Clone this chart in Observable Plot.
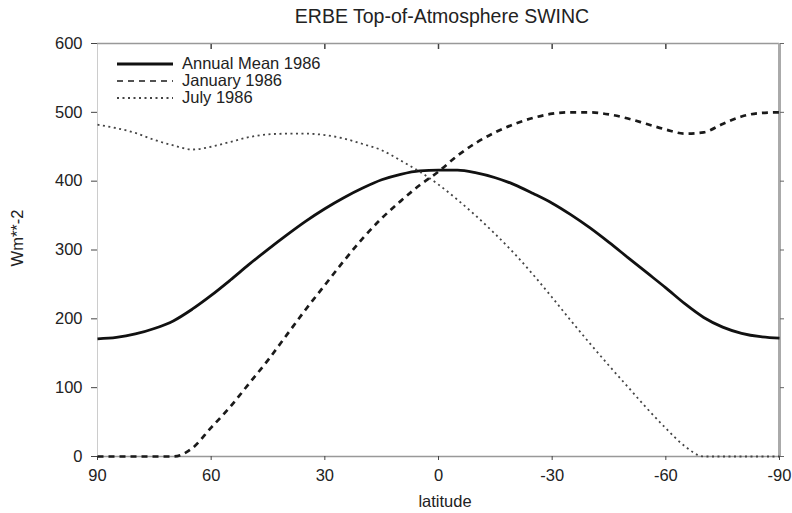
<!DOCTYPE html>
<html>
<head>
<meta charset="utf-8">
<script src="https://cdn.jsdelivr.net/npm/d3@7"></script>
<script src="https://cdn.jsdelivr.net/npm/@observablehq/plot@0.6"></script>
<style>
  body { margin: 0; background: #fff; }
  #wrap { position: relative; width: 792px; height: 513px; font-family: "Liberation Sans", Arial, Helvetica, sans-serif; color: #222; }
  #chart { position: absolute; left: 0; top: 0; }
  .abs { position: absolute; line-height: 1; white-space: nowrap; }
  .title { left: 0; width: 884px; top: 7px; text-align: center; font-size: 19.5px; }
  .xlabel { left: 345px; width: 200px; top: 493px; text-align: center; font-size: 16.5px; }
  .ylabel { left: -23px; width: 80px; top: 230px; text-align: center; font-size: 16.5px; transform: rotate(-90deg); transform-origin: 40px 8px; }
  .leg { left: 117px; display: flex; align-items: center; font-size: 16.5px; height: 17px; }
  .leg svg { margin-right: 9px; }
</style>
</head>
<body>
<div id="wrap">
  <div id="chart"></div>
  <div class="abs title">ERBE Top-of-Atmosphere SWINC</div>
  <div class="abs xlabel">latitude</div>
  <div class="abs ylabel">Wm**-2</div>
  <div id="legend"></div>
</div>
<script>
// ---- data ----
const latitudes = [90,85,80,75,70,65,60,55,50,45,40,35,30,25,20,15,10,5,0,-5,-10,-15,-20,-25,-30,-35,-40,-45,-50,-55,-60,-65,-70,-75,-80,-85,-90];
const annualMean1986 = [171,173,178,186,197,214,234,256,279,301,322,342,360,376,390,402,410,415,416,416,412,405,395,382,368,351,332,311,289,267,245,222,202,188,179,174,172];
const january1986 = [0,0,0,0,0,12,42,72,106,140,177,214,249,284,317,346,371,394,414,437,456,471,483,492,498,500,500,497,491,483,475,469,471,483,494,499,500];
const july1986 = [482,477,470,460,452,446,450,457,464,468,469,469,467,462,454,445,430,414,395,373,349,323,295,264,231,197,164,132,101,70,41,15,0,0,0,0,0];
const seriesNames = ["Annual Mean 1986", "January 1986", "July 1986"];
const xTicks = [90,60,30,0,-30,-60,-90];
const xInnerTicks = [60,30,0,-30,-60];
const yTicks = [0,100,200,300,400,500,600];

const styles = {
  "Annual Mean 1986": {stroke: "#111", strokeWidth: 2.8, dash: null, legendWidth: 3},
  "January 1986": {stroke: "#1a1a1a", strokeWidth: 2.7, dash: "6,5", legendWidth: 1.4},
  "July 1986": {stroke: "#444", strokeWidth: 1.8, dash: "2,3.5", legendWidth: 2.2}
};

const toRows = (vals) => latitudes.map((lat, i) => ({lat, v: vals[i]}));
const seriesData = [toRows(annualMean1986), toRows(january1986), toRows(july1986)];

const lineMarks = seriesNames.map((name, i) => Plot.line(seriesData[i], {
  x: "lat", y: "v", curve: "monotone-x",
  stroke: styles[name].stroke, strokeWidth: styles[name].strokeWidth,
  strokeDasharray: styles[name].dash, strokeLinecap: "butt"
}));

const chart = Plot.plot({
  width: 792, height: 513,
  marginLeft: 97, marginRight: 13, marginTop: 43, marginBottom: 57,
  style: {fontFamily: "'Liberation Sans', Arial, Helvetica, sans-serif", fontSize: "16.5px", color: "#222", background: "white"},
  x: {domain: [90, -90]},
  y: {domain: [0, 600]},
  marks: [
    Plot.ruleX([90], {stroke: "#ccc", strokeWidth: 1}),
    Plot.ruleY([600], {stroke: "#999", strokeWidth: 1.5}),
    Plot.ruleY([0], {stroke: "#999", strokeWidth: 1.5}),
    Plot.ruleX([-90], {stroke: "#aaa", strokeWidth: 3}),
    Plot.axisY({anchor: "left", ticks: yTicks, tickSize: 6, tickPadding: 9, label: null, stroke: "#444"}),
    Plot.axisY({anchor: "right", ticks: yTicks, tickSize: 4, tickFormat: () => "", label: null, stroke: "#666"}),
    Plot.axisX({anchor: "bottom", ticks: xTicks, tickSize: 4, tickPadding: 9, tickFormat: d => String(d), label: null, stroke: "#444"}),
    Plot.axisX({anchor: "top", ticks: xInnerTicks, tickSize: -5, tickFormat: () => "", label: null, stroke: "#444", strokeWidth: 1.5}),
    ...lineMarks
  ]
});
document.getElementById("chart").appendChild(chart);

// legend (inside plot, top-left)
const legend = document.getElementById("legend");
const rowTops = [55, 72, 89];
seriesNames.forEach((name, i) => {
  const row = document.createElement("div");
  row.className = "abs leg";
  row.style.top = rowTops[i] + "px";
  const s = styles[name];
  row.innerHTML = `<svg width="56" height="10"><line x1="0" x2="56" y1="5" y2="5" stroke="${s.stroke}" stroke-width="${s.legendWidth}" ${s.dash ? `stroke-dasharray="${s.dash}"` : ""}/></svg><span>${name}</span>`;
  legend.appendChild(row);
});
</script>
</body>
</html>
